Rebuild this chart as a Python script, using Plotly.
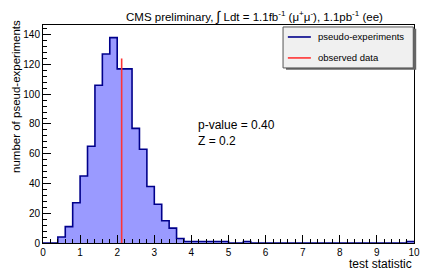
import plotly.graph_objects as go

# ---- data ----
bin_width = 0.2
bin_low = [round(i * bin_width, 1) for i in range(50)]
counts = [0, 0, 4, 11, 27, 45, 65, 106, 127, 138,
          117, 117, 77, 63, 38, 26, 15, 10, 3, 1,
          1, 1, 1, 1, 1, 0, 0, 1, 0, 0,
          0, 0, 0, 0, 0, 0, 0, 0, 0, 0,
          0, 0, 0, 0, 0, 0, 0, 0, 0, 1]
observed_x = 2.12
observed_height = 124
x_ticks = list(range(0, 11))
y_ticks = list(range(0, 141, 20))
legend_labels = ["pseudo-experiments", "observed data"]

FONT = "Liberation Sans, Arial, Helvetica, sans-serif"
FILL = "#9a9aff"
EDGE = "#00008b"
RED = "#ff3333"

centers = [b + bin_width / 2 for b in bin_low]
edges = bin_low + [bin_low[-1] + bin_width]
step_y = counts + [counts[-1]]

fig = go.Figure()
fig.add_trace(go.Bar(x=centers, y=counts, width=bin_width, marker=dict(color=FILL, line=dict(width=0)),
                     showlegend=False, hoverinfo="skip"))
fig.add_trace(go.Scatter(x=edges, y=step_y, mode="lines", line=dict(shape="hv", color=EDGE, width=1.6),
                         name=legend_labels[0], showlegend=False))
fig.add_trace(go.Scatter(x=[observed_x, observed_x], y=[0, observed_height], mode="lines",
                         line=dict(color=RED, width=1.6), name=legend_labels[1], showlegend=False))

axis_common = dict(showgrid=False, zeroline=False, showline=True, linecolor="black", linewidth=1,
                   mirror=True, ticks="inside", ticklen=8, tickcolor="black",
                   tickfont=dict(family=FONT, size=10, color="black"))

fig.update_xaxes(range=[0, 10], tickvals=x_ticks, ticktext=[str(v) for v in x_ticks],
                 minor=dict(dtick=0.2, ticks="inside", ticklen=4, tickcolor="black"), **axis_common)
fig.update_yaxes(range=[0, 146.5], tickvals=y_ticks, ticktext=[str(v) for v in y_ticks],
                 minor=dict(dtick=4, ticks="inside", ticklen=4, tickcolor="black"), **axis_common)

# legend box (ROOT style, with shadow)
shapes = [
    dict(type="rect", xref="paper", yref="paper", x0=0.655, x1=1.006, y0=0.795, y1=0.983,
         fillcolor="#666666", line=dict(width=0), layer="above"),
    dict(type="rect", xref="paper", yref="paper", x0=0.647, x1=0.998, y0=0.803, y1=0.991,
         fillcolor="#f0f0f0", line=dict(color="#555555", width=1), layer="above"),
    dict(type="line", xref="paper", yref="paper", x0=0.660, x1=0.722, y0=0.945, y1=0.945,
         line=dict(color=EDGE, width=1.6), layer="above"),
    dict(type="line", xref="paper", yref="paper", x0=0.660, x1=0.722, y0=0.849, y1=0.849,
         line=dict(color=RED, width=1.6), layer="above"),
]

annotations = [
    dict(text="CMS preliminary, <span style='font-size:14px'>∫</span> Ldt = 1.1fb<sup>-1</sup> (μ<sup>+</sup>μ<sup>-</sup>), 1.1pb<sup>-1</sup> (ee)",
         xref="paper", yref="paper", x=0.57, y=1.042, xanchor="center", yanchor="middle",
         showarrow=False, font=dict(family=FONT, size=11.5, color="black")),
    dict(text="test statistic", xref="paper", yref="paper", x=1, y=0, xanchor="right", yanchor="top",
         yshift=-12, showarrow=False, font=dict(family=FONT, size=12, color="black")),
    dict(text="number of pseud-experiments", xref="paper", yref="paper", x=0, y=1.03,
         xanchor="right", yanchor="top", xshift=-19, textangle=-90, showarrow=False,
         font=dict(family=FONT, size=11.5, color="black")),
    dict(text="p-value = 0.40<br>Z = 0.2", xref="x", yref="y", x=4.12, y=74, xanchor="left",
         yanchor="middle", align="left", showarrow=False,
         font=dict(family=FONT, size=12, color="black")),
    dict(text=legend_labels[0], xref="paper", yref="paper", x=0.736, y=0.945, xanchor="left",
         yanchor="middle", showarrow=False, font=dict(family=FONT, size=9.5, color="black")),
    dict(text=legend_labels[1], xref="paper", yref="paper", x=0.736, y=0.849, xanchor="left",
         yanchor="middle", showarrow=False, font=dict(family=FONT, size=9.5, color="black")),
]

# page body has an 8px margin; size/margins compensate so the plot lands where the reference has it
fig.update_layout(
    width=428, height=264,
    margin=dict(l=35, r=22, t=17, b=29),
    paper_bgcolor="white", plot_bgcolor="white",
    bargap=0,
    showlegend=False,
    shapes=shapes,
    annotations=annotations,
)

fig.write_html("out.html")
